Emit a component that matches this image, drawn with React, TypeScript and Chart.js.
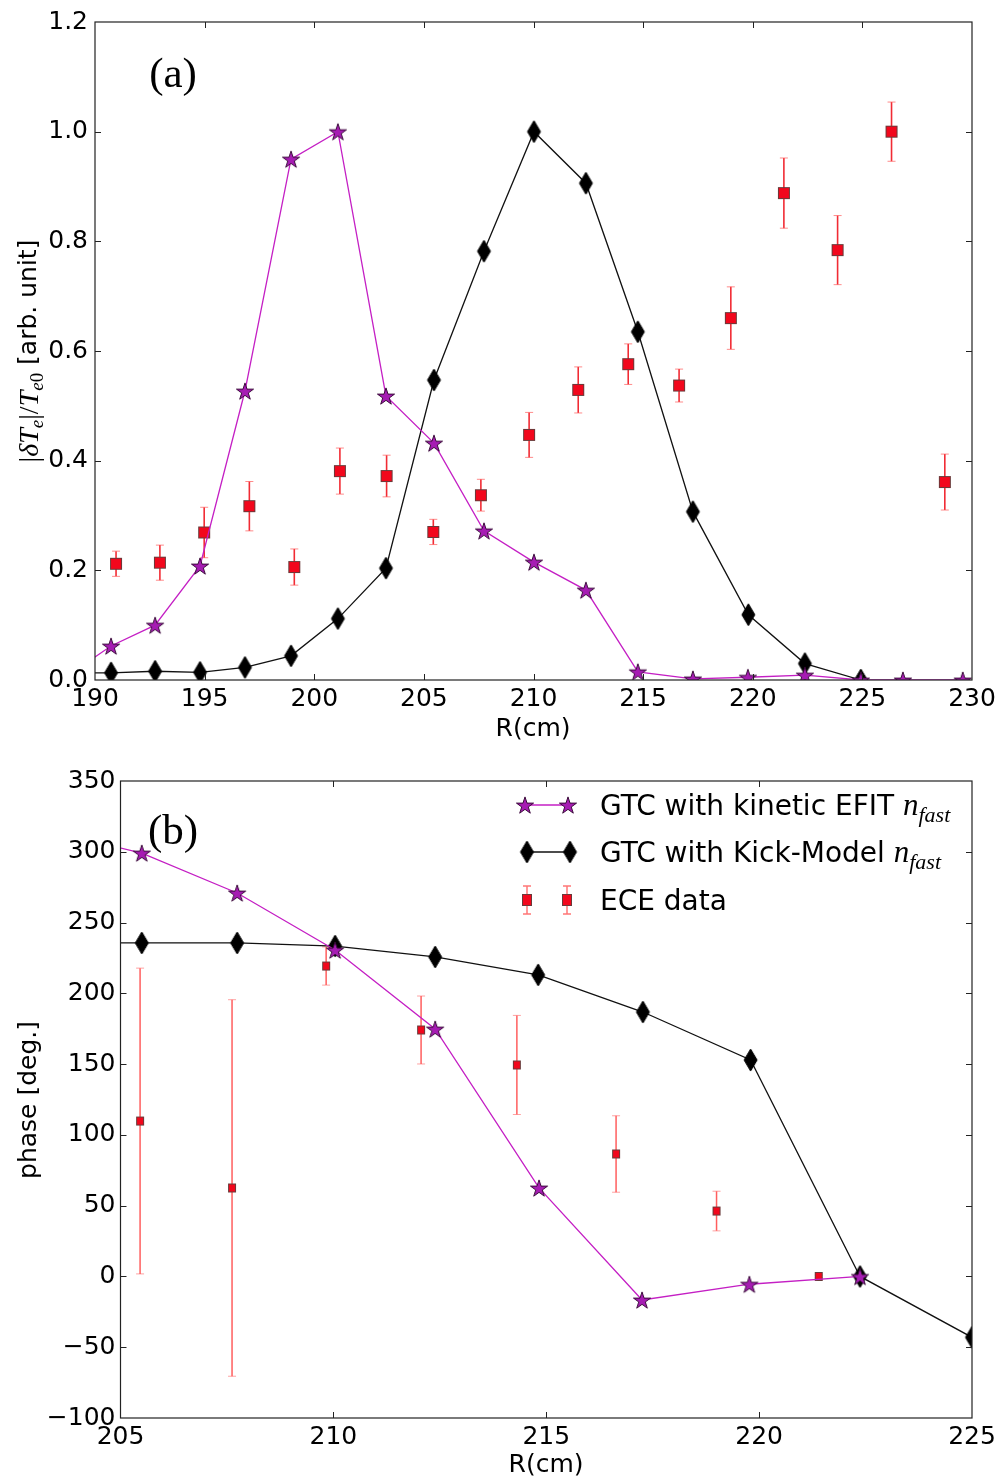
import React, { useEffect, useRef } from "react";
import { Chart, registerables } from "chart.js";

Chart.register(...registerables);

// ---------- Panel (a): normalized amplitude |dTe|/Te0 ----------
const ampR_kinetic = [188.75, 190.73, 192.74, 194.79, 196.84, 198.94, 201.08, 203.27, 205.46, 207.74, 210.02, 212.39, 214.76, 217.27, 219.78, 222.38, 224.93, 226.85, 229.58];
const ampKinetic = [0.008, 0.062, 0.1, 0.208, 0.527, 0.95, 1.0, 0.518, 0.432, 0.272, 0.215, 0.164, 0.015, 0.002, 0.005, 0.009, 0.0, 0.0, 0.0];

const ampR_kick = [188.75, 190.73, 192.74, 194.79, 196.84, 198.94, 201.08, 203.27, 205.46, 207.74, 210.02, 212.39, 214.76, 217.27, 219.8, 222.38, 224.93];
const ampKick = [0.013, 0.013, 0.016, 0.014, 0.023, 0.044, 0.112, 0.204, 0.547, 0.782, 1.0, 0.906, 0.635, 0.307, 0.119, 0.03, 0.0];

const ampR_ece = [190.96, 192.96, 194.98, 197.04, 199.09, 201.17, 203.3, 205.43, 207.6, 209.8, 212.04, 214.32, 216.64, 219.0, 221.42, 223.87, 226.33, 228.76];
const ampEce = [0.212, 0.214, 0.269, 0.317, 0.206, 0.381, 0.372, 0.27, 0.337, 0.447, 0.529, 0.576, 0.537, 0.66, 0.888, 0.784, 1.0, 0.361];
const ampEceErr = [0.023, 0.032, 0.046, 0.045, 0.033, 0.042, 0.038, 0.023, 0.029, 0.041, 0.042, 0.037, 0.03, 0.057, 0.064, 0.063, 0.054, 0.051];

const ampXTicks = [190, 195, 200, 205, 210, 215, 220, 225, 230];
const ampYTicks = [0.0, 0.2, 0.4, 0.6, 0.8, 1.0, 1.2];

// ---------- Panel (b): phase ----------
const phaseR_kinetic = [203.3, 205.5, 207.74, 210.04, 212.39, 214.83, 217.25, 219.77, 222.37];
const phaseKinetic = [315, 299.1, 270.9, 230.6, 174.8, 62.5, -16.6, -5.5, 0];

const phaseR_kick = [203.3, 205.5, 207.74, 210.04, 212.39, 214.81, 217.27, 219.8, 222.37, 225.0];
const phaseKick = [236, 235.6, 235.6, 233.4, 225.7, 213, 186.8, 152.9, 0, -43];

const phaseR_ece = [205.46, 207.62, 209.83, 212.06, 214.31, 216.64, 219.0, 221.4];
const phaseEce = [109.8, 62.5, 219.3, 174.1, 149.4, 86.5, 46.2, 0];
const phaseEceErr = [108, 133, 13.5, 24, 35, 27, 14, 1];

const phaseXTicks = [205, 210, 215, 220, 225];
const phaseYTicks = [-100, -50, 0, 50, 100, 150, 200, 250, 300, 350];

const SANS = '"DejaVu Sans", sans-serif';
const SERIF = '"Liberation Serif", "DejaVu Serif", serif';
const MAGENTA_LINE = "#c41fc4";
const STAR_FILL = "#a61cb3";
const RED = "#f2071c";

type Run = { text: string; font: string; dy?: number };

function drawRuns(ctx: CanvasRenderingContext2D, runs: Run[], cx: number, baseY: number) {
  let total = 0;
  const widths = runs.map((r) => {
    ctx.font = r.font;
    const w = ctx.measureText(r.text).width;
    total += w;
    return w;
  });
  let x = cx - total / 2;
  ctx.textAlign = "left";
  ctx.textBaseline = "alphabetic";
  runs.forEach((r, i) => {
    ctx.font = r.font;
    ctx.fillText(r.text, x, baseY + (r.dy || 0));
    x += widths[i];
  });
}

function drawRunsLeft(ctx: CanvasRenderingContext2D, runs: Run[], x0: number, baseY: number) {
  let x = x0;
  ctx.textAlign = "left";
  ctx.textBaseline = "alphabetic";
  runs.forEach((r) => {
    ctx.font = r.font;
    ctx.fillText(r.text, x, baseY + (r.dy || 0));
    x += ctx.measureText(r.text).width;
  });
}

function starImage(r: number) {
  const size = Math.ceil(2 * r + 4);
  const c = document.createElement("canvas");
  c.width = size;
  c.height = size;
  const g = c.getContext("2d")!;
  g.translate(size / 2, size / 2 + r * 0.1);
  g.beginPath();
  for (let i = 0; i < 10; i++) {
    const rad = i % 2 === 0 ? r : r * 0.382;
    const a = -Math.PI / 2 + (i * Math.PI) / 5;
    const px = rad * Math.cos(a);
    const py = rad * Math.sin(a);
    if (i === 0) g.moveTo(px, py);
    else g.lineTo(px, py);
  }
  g.closePath();
  g.fillStyle = STAR_FILL;
  g.fill();
  g.lineWidth = 1;
  g.strokeStyle = "#3b0b3b";
  g.stroke();
  return c;
}

function diamondImage(h: number, w: number) {
  const c = document.createElement("canvas");
  c.width = Math.ceil(w + 4);
  c.height = Math.ceil(h + 4);
  const g = c.getContext("2d")!;
  const cx = c.width / 2;
  const cy = c.height / 2;
  g.beginPath();
  g.moveTo(cx, cy - h / 2);
  g.lineTo(cx + w / 2, cy);
  g.lineTo(cx, cy + h / 2);
  g.lineTo(cx - w / 2, cy);
  g.closePath();
  g.fillStyle = "#000";
  g.fill();
  g.lineWidth = 1;
  g.strokeStyle = "#000";
  g.stroke();
  return c;
}

function squareImage(w: number, h: number) {
  const c = document.createElement("canvas");
  c.width = Math.ceil(w + 4);
  c.height = Math.ceil(h + 4);
  const g = c.getContext("2d")!;
  const x = (c.width - w) / 2;
  const y = (c.height - h) / 2;
  g.fillStyle = RED;
  g.fillRect(x, y, w, h);
  g.lineWidth = 1;
  g.strokeStyle = "#6a3a3a";
  g.strokeRect(x + 0.5, y + 0.5, w - 1, h - 1);
  return c;
}

const zip = (xs: number[], ys: number[]) => xs.map((x, i) => ({ x, y: ys[i] }));

// Box around the plot area with inward tick marks on all four sides.
const framePlugin = {
  id: "frame",
  afterDatasetsDraw(chart: any) {
    const { ctx, chartArea: a, scales } = chart;
    ctx.save();
    ctx.strokeStyle = "#222";
    ctx.lineWidth = 1.2;
    ctx.strokeRect(a.left, a.top, a.right - a.left, a.bottom - a.top);
    const L = 6;
    ctx.beginPath();
    scales.x.ticks.forEach((t: any) => {
      const px = Math.round(scales.x.getPixelForValue(t.value)) + 0.5;
      if (px <= a.left + 1 || px >= a.right - 1) return;
      ctx.moveTo(px, a.bottom);
      ctx.lineTo(px, a.bottom - L);
      ctx.moveTo(px, a.top);
      ctx.lineTo(px, a.top + L);
    });
    scales.y.ticks.forEach((t: any) => {
      const py = Math.round(scales.y.getPixelForValue(t.value)) + 0.5;
      if (py <= a.top + 1 || py >= a.bottom - 1) return;
      ctx.moveTo(a.left, py);
      ctx.lineTo(a.left + L, py);
      ctx.moveTo(a.right, py);
      ctx.lineTo(a.right - L, py);
    });
    ctx.lineWidth = 1;
    ctx.stroke();
    ctx.restore();
  },
};

// Vertical error bars for datasets carrying an `errors` array.
const errorBarPlugin = {
  id: "errorBars",
  beforeDatasetsDraw(chart: any) {
    const { ctx, chartArea: a, scales } = chart;
    ctx.save();
    ctx.beginPath();
    ctx.rect(a.left, a.top, a.right - a.left, a.bottom - a.top);
    ctx.clip();
    chart.data.datasets.forEach((ds: any) => {
      if (!ds.errors) return;
      const style = ds.errorStyle;
      ds.data.forEach((p: any, i: number) => {
        const e = ds.errors[i];
        const px = scales.x.getPixelForValue(p.x);
        const yTop = scales.y.getPixelForValue(p.y + e);
        const yBot = scales.y.getPixelForValue(p.y - e);
        ctx.strokeStyle = style.line;
        ctx.lineWidth = style.width;
        ctx.beginPath();
        ctx.moveTo(px, yTop);
        ctx.lineTo(px, yBot);
        ctx.stroke();
        ctx.strokeStyle = style.cap;
        ctx.lineWidth = 1;
        ctx.beginPath();
        ctx.moveTo(px - style.capHalf, yTop);
        ctx.lineTo(px + style.capHalf, yTop);
        ctx.moveTo(px - style.capHalf, yBot);
        ctx.lineTo(px + style.capHalf, yBot);
        ctx.stroke();
      });
    });
    ctx.restore();
  },
};

function fixedTicks(values: number[]) {
  return (scale: any) => {
    scale.ticks = values.map((v) => ({ value: v }));
  };
}

const tickFont = { family: SANS, size: 25 };

function baseOptions(
  xMin: number,
  xMax: number,
  yMin: number,
  yMax: number,
  xTicks: number[],
  yTicks: number[],
  yWidth: number,
  xHeight: number,
  padTop: number,
  yPad: number,
  yFmt: (v: number) => string
) {
  return {
    animation: false,
    responsive: false,
    devicePixelRatio: 1,
    layout: { padding: { left: 0, right: 28, top: padTop, bottom: 0 }, autoPadding: false },
    plugins: { legend: { display: false }, tooltip: { enabled: false } },
    elements: { line: { tension: 0 } },
    scales: {
      x: {
        type: "linear",
        min: xMin,
        max: xMax,
        afterBuildTicks: fixedTicks(xTicks),
        afterFit: (s: any) => {
          s.height = xHeight;
        },
        grid: { display: false, drawTicks: false },
        border: { display: false },
        ticks: {
          font: tickFont,
          color: "#000",
          padding: 4,
          maxRotation: 0,
          autoSkip: false,
          callback: (v: number) => String(v),
        },
      },
      y: {
        type: "linear",
        min: yMin,
        max: yMax,
        afterBuildTicks: fixedTicks(yTicks),
        afterFit: (s: any) => {
          s.width = yWidth;
        },
        grid: { display: false, drawTicks: false },
        border: { display: false },
        ticks: {
          font: tickFont,
          color: "#000",
          padding: yPad,
          autoSkip: false,
          callback: (v: number) => yFmt(v),
        },
      },
    },
  };
}

function AmplitudePanel() {
  const ref = useRef<HTMLCanvasElement>(null);
  useEffect(() => {
    const star = starImage(9);
    const diamond = diamondImage(22, 13);
    const square = squareImage(12, 12);

    const labels = {
      id: "panelLabels",
      afterDraw(chart: any) {
        const ctx = chart.ctx;
        ctx.save();
        ctx.fillStyle = "#000";
        ctx.font = `43px ${SERIF}`;
        ctx.textAlign = "center";
        ctx.textBaseline = "middle";
        ctx.fillText("(a)", 173, 76);
        ctx.font = `25px ${SANS}`;
        ctx.fillText("R(cm)", 533, 729);
        // rotated y title with math parts
        ctx.translate(36, 351);
        ctx.rotate(-Math.PI / 2);
        const it = `italic 28px ${SERIF}`;
        const up = `28px ${SERIF}`;
        const sub = `italic 19px ${SERIF}`;
        const subUp = `19px ${SERIF}`;
        drawRuns(
          ctx,
          [
            { text: "|", font: up, dy: 2 },
            { text: "δT", font: it, dy: 2 },
            { text: "e", font: sub, dy: 7 },
            { text: "|/", font: up, dy: 2 },
            { text: "T", font: it, dy: 2 },
            { text: "e", font: sub, dy: 7 },
            { text: "0", font: subUp, dy: 7 },
            { text: " [arb. unit]", font: `25px ${SANS}` },
          ],
          0,
          0
        );
        ctx.restore();
      },
    };

    const chart = new Chart(ref.current!, {
      type: "line",
      data: {
        datasets: [
          {
            label: "GTC with kinetic EFIT",
            data: zip(ampR_kinetic, ampKinetic),
            borderColor: MAGENTA_LINE,
            borderWidth: 1.3,
            pointStyle: star as any,
            pointRadius: 5,
          },
          {
            label: "GTC with Kick-Model",
            data: zip(ampR_kick, ampKick),
            borderColor: "#111",
            borderWidth: 1.3,
            pointStyle: diamond as any,
            pointRadius: 5,
          },
          {
            label: "ECE data",
            data: zip(ampR_ece, ampEce),
            showLine: false,
            pointStyle: square as any,
            pointRadius: 5,
            errors: ampEceErr,
            errorStyle: { line: "rgba(240,20,30,0.9)", cap: "rgba(255,90,90,0.7)", width: 1.6, capHalf: 4 },
          } as any,
        ],
      },
      options: baseOptions(190, 230, 0, 1.2, ampXTicks, ampYTicks, 95, 65, 22, 7, (v) => v.toFixed(1)) as any,
      plugins: [errorBarPlugin, framePlugin, labels],
    });
    return () => chart.destroy();
  }, []);
  return <canvas ref={ref} width={1000} height={745} style={{ display: "block" }} />;
}

function PhasePanel() {
  const ref = useRef<HTMLCanvasElement>(null);
  useEffect(() => {
    const star = starImage(9);
    const diamond = diamondImage(22, 13);
    const square = squareImage(8, 9);
    const legendSquare = squareImage(10, 12);

    const labels = {
      id: "panelLabels",
      afterDraw(chart: any) {
        const ctx = chart.ctx;
        ctx.save();
        ctx.fillStyle = "#000";
        ctx.font = `43px ${SERIF}`;
        ctx.textAlign = "center";
        ctx.textBaseline = "middle";
        ctx.fillText("(b)", 173, 88);
        ctx.font = `25px ${SANS}`;
        ctx.fillText("R(cm)", 546, 720);
        ctx.save();
        ctx.translate(36, 355);
        ctx.rotate(-Math.PI / 2);
        drawRuns(ctx, [{ text: "phase [deg.]", font: `25px ${SANS}` }], 0, 0);
        ctx.restore();

        // legend
        const rows = [60, 107, 155];
        const textX = 600;
        const legFont = `28px ${SANS}`;
        const nFont = `italic 31px ${SERIF}`;
        const subFont = `italic 22px ${SERIF}`;
        // row 1: stars with line
        ctx.strokeStyle = MAGENTA_LINE;
        ctx.lineWidth = 1.3;
        ctx.beginPath();
        ctx.moveTo(525, rows[0]);
        ctx.lineTo(568, rows[0]);
        ctx.stroke();
        ctx.drawImage(star, 525 - star.width / 2, rows[0] - star.height / 2);
        ctx.drawImage(star, 568 - star.width / 2, rows[0] - star.height / 2);
        // row 2: diamonds with line
        ctx.strokeStyle = "#111";
        ctx.beginPath();
        ctx.moveTo(527, rows[1]);
        ctx.lineTo(570, rows[1]);
        ctx.stroke();
        ctx.drawImage(diamond, 527 - diamond.width / 2, rows[1] - diamond.height / 2);
        ctx.drawImage(diamond, 570 - diamond.width / 2, rows[1] - diamond.height / 2);
        // row 3: squares with error bars
        [527, 567].forEach((x) => {
          ctx.strokeStyle = "rgba(255,60,60,0.7)";
          ctx.lineWidth = 1.5;
          ctx.beginPath();
          ctx.moveTo(x, rows[2] - 14);
          ctx.lineTo(x, rows[2] + 14);
          ctx.moveTo(x - 4, rows[2] - 14);
          ctx.lineTo(x + 4, rows[2] - 14);
          ctx.moveTo(x - 4, rows[2] + 14);
          ctx.lineTo(x + 4, rows[2] + 14);
          ctx.stroke();
          ctx.drawImage(legendSquare, x - legendSquare.width / 2, rows[2] - legendSquare.height / 2);
        });
        ctx.fillStyle = "#000";
        const base = (r: number) => r + 10;
        drawRunsLeft(
          ctx,
          [
            { text: "GTC with kinetic EFIT ", font: legFont },
            { text: "n", font: nFont },
            { text: "fast", font: subFont, dy: 7 },
          ],
          textX,
          base(rows[0])
        );
        drawRunsLeft(
          ctx,
          [
            { text: "GTC with Kick-Model ", font: legFont },
            { text: "n", font: nFont },
            { text: "fast", font: subFont, dy: 7 },
          ],
          textX,
          base(rows[1])
        );
        drawRunsLeft(ctx, [{ text: "ECE data", font: legFont }], textX, base(rows[2]));
        ctx.restore();
      },
    };

    const chart = new Chart(ref.current!, {
      type: "line",
      data: {
        datasets: [
          {
            label: "GTC with kinetic EFIT",
            data: zip(phaseR_kinetic, phaseKinetic),
            borderColor: MAGENTA_LINE,
            borderWidth: 1.3,
            pointStyle: star as any,
            pointRadius: 5,
          },
          {
            label: "GTC with Kick-Model",
            data: zip(phaseR_kick, phaseKick),
            borderColor: "#111",
            borderWidth: 1.3,
            pointStyle: diamond as any,
            pointRadius: 5,
          },
          {
            label: "ECE data",
            data: zip(phaseR_ece, phaseEce),
            showLine: false,
            pointStyle: square as any,
            pointRadius: 5,
            errors: phaseEceErr,
            errorStyle: { line: "rgba(255,40,40,0.75)", cap: "rgba(255,100,100,0.6)", width: 1.5, capHalf: 4 },
          } as any,
        ],
      },
      options: baseOptions(205, 225, -100, 350, phaseXTicks, phaseYTicks, 120.5, 63, 36, 5, (v) =>
        String(v).replace("-", "\u2212")
      ) as any,
      plugins: [errorBarPlugin, framePlugin, labels],
    });
    return () => chart.destroy();
  }, []);
  return <canvas ref={ref} width={1000} height={736} style={{ display: "block" }} />;
}

export default function App() {
  return (
    <div style={{ position: "absolute", left: 0, top: 0, width: 1000, height: 1481, background: "#fff" }}>
      <AmplitudePanel />
      <PhasePanel />
    </div>
  );
}
